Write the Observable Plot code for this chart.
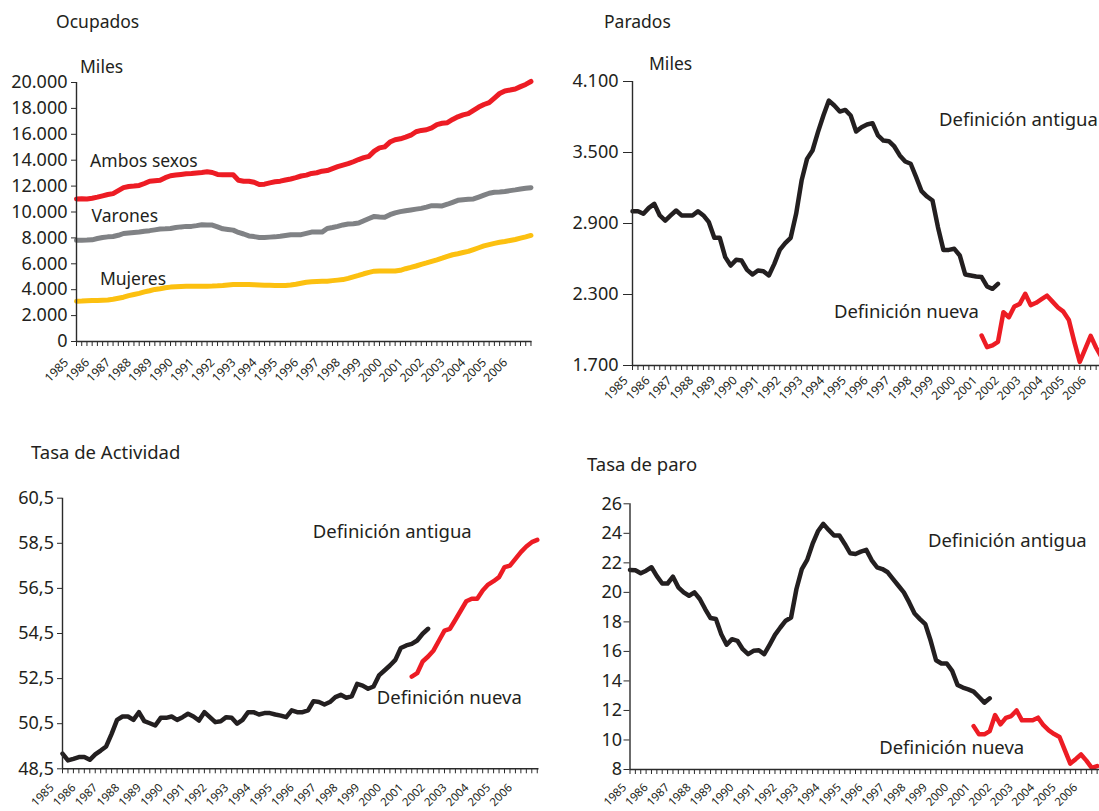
<!DOCTYPE html>
<html>
<head>
<meta charset="utf-8">
<script src="https://cdn.jsdelivr.net/npm/d3@7"></script>
<script src="https://cdn.jsdelivr.net/npm/@observablehq/plot@0.6"></script>
<style>
  html, body { margin: 0; padding: 0; background: #fff; }
  body { width: 1099px; height: 811px; overflow: hidden; position: relative;
         font-family: "Noto Sans", "Open Sans", sans-serif; color: #231f20; }
  .panel { position: absolute; width: 560px; overflow: visible; }
  .panel svg { max-width: none !important; }
  .lbl { position: absolute; font-size: 17.5px; line-height: 20px; white-space: nowrap; color: #231f20; }
  .lbl.big { font-size: 18.5px; }
</style>
</head>
<body>
<div class="lbl" style="left:56px;top:11px">Ocupados</div>
<div class="lbl" style="left:80px;top:56px">Miles</div>
<div class="lbl" style="left:604px;top:11px">Parados</div>
<div class="lbl" style="left:649px;top:53px">Miles</div>
<div class="lbl big" style="left:31px;top:442px">Tasa de Actividad</div>
<div class="lbl big" style="left:587px;top:454px">Tasa de paro</div>
<div id="p1" class="panel" style="left:0;top:0"></div>
<div id="p2" class="panel" style="left:560px;top:0"></div>
<div id="p3" class="panel" style="left:0;top:420px"></div>
<div id="p4" class="panel" style="left:560px;top:420px"></div>
<script>
// ---------- DATA (quarterly, 1985Q1 ... 2006Q4) ----------
const yearLabels = ["1985","1986","1987","1988","1989","1990","1991","1992","1993","1994","1995",
  "1996","1997","1998","1999","2000","2001","2002","2003","2004","2005","2006"];
const firstYear = 1985;       // old-definition series start (1985 Q1)
const newDefStart = 2001;     // new-definition series start (2001 Q1)

// Ocupados (miles)
const ocupAmbos = [11010,11020,11000,11060, 11150,11250,11350,11420, 11650,11880,11970,12000,
  12050,12200,12380,12420, 12450,12650,12800,12850, 12900,12950,12980,13020, 13050,13100,13050,12900,
  12870,12870,12870,12450, 12380,12380,12300,12120, 12150,12250,12330,12380, 12470,12550,12650,12780,
  12850,12980,13030,13150, 13200,13350,13500,13620, 13730,13880,14050,14200, 14300,14700,14950,15030,
  15400,15580,15650,15780, 15930,16200,16300,16350, 16500,16750,16850,16900, 17150,17350,17500,17600,
  17850,18100,18300,18450, 18800,19150,19350,19420, 19500,19680,19850,20080];
const ocupVarones = [7820,7820,7830,7850, 7950,8030,8080,8110, 8200,8340,8380,8420, 8450,8520,8560,8620,
  8680,8700,8730,8800, 8850,8890,8890,8950, 9020,9000,8990,8850, 8700,8650,8600,8420, 8300,8150,8100,8030,
  8040,8060,8080,8120, 8180,8240,8240,8250, 8350,8450,8450,8450, 8730,8800,8890,9000, 9070,9100,9150,9330,
  9500,9660,9620,9590, 9790,9930,10030,10100, 10160,10220,10280,10380, 10490,10480,10470,10600,
  10750,10900,10950,10980, 11010,11150,11300,11450, 11530,11550,11580,11650, 11710,11780,11830,11880];
const ocupMujeres = [3110,3120,3140,3160, 3170,3190,3210,3260, 3340,3420,3540,3630, 3720,3830,3920,4020,
  4080,4150,4200,4230, 4250,4260,4270,4270, 4270,4270,4280,4300, 4330,4370,4400,4400, 4400,4400,4390,4370,
  4350,4340,4330,4330, 4330,4360,4420,4500, 4580,4620,4640,4650, 4660,4700,4740,4780, 4880,4990,5100,5230,
  5340,5430,5440,5440, 5440,5440,5500,5620, 5720,5830,5960,6070, 6190,6310,6440,6580, 6700,6780,6870,6960,
  7100,7240,7380,7480, 7580,7660,7720,7800, 7880,7980,8080,8190];

// Parados (miles)
const paradosAntigua = [3004,3004,2982,3032, 3066,2968,2925,2968, 3010,2968,2968,2968, 3004,2968,2911,2779,
  2779,2616,2545,2593, 2587,2508,2469,2503, 2497,2461,2559,2677, 2734,2779,2982,3263, 3446,3517,3672,3813,
  3939,3897,3846,3860, 3813,3677,3714,3737, 3748,3644,3601,3596, 3551,3475,3424,3405, 3292,3173,3128,3094,
  2869,2677,2677,2686, 2630,2469,2461,2452, 2447,2368,2348,2390];
const paradosNueva = [1953,1855,1870,1900, 2150,2108,2199,2221, 2306,2210,2230,2260, 2290,2240,2190,2155,
  2085,1900,1730,1840, 1950,1850,1770,1800];

// Tasa de actividad (%)
const actividadAntigua = [49.17,48.87,48.94,49.02, 49.02,48.90,49.14,49.31, 49.49,50.05,50.67,50.82,
  50.82,50.67,51.01,50.61, 50.52,50.42,50.76,50.76, 50.82,50.67,50.79,50.94, 50.82,50.64,51.01,50.79,
  50.57,50.61,50.79,50.76, 50.50,50.67,51.01,51.01, 50.91,50.97,50.97,50.91, 50.86,50.79,51.09,51.01,
  51.01,51.09,51.50,51.46, 51.35,51.46,51.68,51.78, 51.65,51.71,52.27,52.19, 52.05,52.15,52.64,52.86,
  53.08,53.33,53.86,53.97, 54.04,54.19,54.49,54.71];
const actividadNueva = [52.59,52.74,53.26,53.48, 53.75,54.19,54.63,54.71, 55.11,55.52,55.93,56.04,
  56.04,56.41,56.67,56.82, 57.00,57.44,57.51,57.81, 58.11,58.36,58.55,58.65];

// Tasa de paro (%)
const paroAntigua = [21.52,21.50,21.30,21.47, 21.70,21.10,20.60,20.60, 21.06,20.34,20.00,19.77,
  20.00,19.55,18.87,18.26, 18.19,17.17,16.45,16.83, 16.72,16.15,15.81,16.04, 16.08,15.81,16.45,17.12,
  17.62,18.08,18.30,20.23, 21.58,22.20,23.28,24.14, 24.64,24.23,23.85,23.85, 23.28,22.65,22.60,22.76,
  22.88,22.19,21.70,21.58, 21.36,20.90,20.45,20.00, 19.32,18.57,18.19,17.85, 16.72,15.40,15.18,15.18,
  14.68,13.73,13.55,13.43, 13.28,12.91,12.53,12.82];
const paroNueva = [10.94,10.38,10.38,10.60, 11.69,11.06,11.50,11.62, 12.00,11.33,11.33,11.33,
  11.51,11.00,10.65,10.40, 10.20,9.30,8.40,8.70, 9.02,8.60,8.11,8.23];

// ---------- STYLE ----------
const INK = "#231f20";
const AXIS = "#2b2b2b";
const RED = "#ed1c24";
const GREY = "#808285";
const YELLOW = "#fcc010";
const FONT = '"Noto Sans", "Open Sans", sans-serif';

const es = d3.formatLocale({decimal: ",", thousands: ".", grouping: [3], currency: ["", " €"]});
const fmtMiles = es.format(",");
const fmtRate1 = es.format(".1f");
const fmtInt = es.format("d");

const qx = (start) => (d, i) => start + i / 4;

function panel(o) {
  const yMin = o.yDomain[0], yMax = o.yDomain[1];
  const nTicks = Math.floor((o.xEnd - firstYear) * 4 + 1e-6);
  const quarterTicks = d3.range(0, nTicks + 1).map(i => firstYear + i / 4);
  return Plot.plot({
    width: o.width, height: o.height,
    marginLeft: o.m[3], marginTop: o.m[0], marginRight: o.m[1], marginBottom: o.m[2],
    style: {fontFamily: FONT, background: "transparent", color: INK, overflow: "visible", maxWidth: "none"},
    x: {type: "linear", domain: [firstYear, o.xEnd], axis: null},
    y: {type: "linear", domain: o.yDomain, axis: null},
    marks: [
      ...o.marks,
      Plot.ruleX(quarterTicks, {x: d => d, y1: yMin, y2: yMin, insetBottom: -5, stroke: AXIS, strokeWidth: 1}),
      Plot.ruleY([yMin], {x1: firstYear, x2: o.xEnd, stroke: AXIS, strokeWidth: 1.4}),
      Plot.ruleX([firstYear], {y1: yMin, y2: yMax, stroke: AXIS, strokeWidth: 1.4}),
      Plot.axisY({ticks: o.yTicks, tickFormat: o.yFormat, tickSize: o.tickSize, tickPadding: o.tickPad,
                  fontSize: 18, stroke: AXIS, label: null}),
      Plot.text(yearLabels, {x: d => +d, frameAnchor: "bottom", text: d => d, rotate: -45,
                  textAnchor: "end", lineAnchor: "middle", fontSize: o.yearSize, fill: INK,
                  dx: o.ldx, dy: o.ldy})
    ]
  });
}

const lbl = (txt, x, y, size) => Plot.text([txt], {x: () => x, y: () => y, text: d => d, textAnchor: "start",
  lineAnchor: "middle", fontSize: size, fill: INK});

// Panel 1 – Ocupados
document.getElementById("p1").append(panel({
  width: 560, height: 420, m: [82, 28.5, 79, 76], xEnd: 2006.80, tickSize: 5, tickPad: 4,
  yDomain: [0, 20000], yTicks: d3.range(0, 20001, 2000), yFormat: fmtMiles, ldx: -10, ldy: 19, yearSize: 12,
  marks: [
    Plot.line(ocupMujeres, {x: qx(firstYear), y: d => d, stroke: YELLOW, strokeWidth: 5}),
    Plot.line(ocupVarones, {x: qx(firstYear), y: d => d, stroke: GREY, strokeWidth: 5}),
    Plot.line(ocupAmbos, {x: qx(firstYear), y: d => d, stroke: RED, strokeWidth: 5}),
    lbl("Ambos sexos", 1985.65, 13900, 17.5),
    lbl("Varones", 1985.72, 9650, 17.5),
    lbl("Mujeres", 1986.12, 4780, 17.5)
  ]
}));

// Panel 2 – Parados
document.getElementById("p2").append(panel({
  width: 560, height: 420, m: [81, 8, 55, 72], xEnd: 2007, tickSize: 9, tickPad: 5,
  yDomain: [1700, 4100], yTicks: [1700, 2300, 2900, 3500, 4100], yFormat: fmtMiles, ldx: -6.5, ldy: 13, yearSize: 12,
  marks: [
    Plot.line(paradosAntigua, {x: qx(firstYear), y: d => d, stroke: INK, strokeWidth: 4.5}),
    Plot.line(paradosNueva, {x: qx(newDefStart), y: d => d, stroke: RED, strokeWidth: 4.5}),
    lbl("Definición antigua", 1999.05, 3770, 18.5),
    lbl("Definición nueva", 1994.23, 2148, 18.5)
  ]
}));

// Panel 3 – Tasa de Actividad
document.getElementById("p3").append(panel({
  width: 560, height: 391, m: [77.7, 21.5, 42.7, 62], xEnd: 2006.83, tickSize: 5, tickPad: 3.5,
  yDomain: [48.5, 60.5], yTicks: d3.range(48.5, 60.6, 2), yFormat: fmtRate1, ldx: -10.5, ldy: 17, yearSize: 11.5,
  marks: [
    Plot.line(actividadAntigua, {x: qx(firstYear), y: d => d, stroke: INK, strokeWidth: 4.5}),
    Plot.line(actividadNueva, {x: qx(newDefStart), y: d => d, stroke: RED, strokeWidth: 4.5}),
    lbl("Definición antigua", 1996.47, 59.0, 18.5),
    lbl("Definición nueva", 1999.4, 51.62, 18.5)
  ]
}));

// Panel 4 – Tasa de paro
document.getElementById("p4").append(panel({
  width: 560, height: 391, m: [83.3, 18, 42, 69.5], xEnd: 2007, tickSize: 6, tickPad: 2,
  yDomain: [8, 26], yTicks: d3.range(8, 27, 2), yFormat: fmtInt, ldx: -5.5, ldy: 16, yearSize: 11.5,
  marks: [
    Plot.line(paroAntigua, {x: qx(firstYear), y: d => d, stroke: INK, strokeWidth: 4.5}),
    Plot.line(paroNueva, {x: qx(newDefStart), y: d => d, stroke: RED, strokeWidth: 4.5}),
    lbl("Definición antigua", 1998.87, 23.5, 18.5),
    lbl("Definición nueva", 1996.6, 9.45, 18.5)
  ]
}));
</script>
</body>
</html>
